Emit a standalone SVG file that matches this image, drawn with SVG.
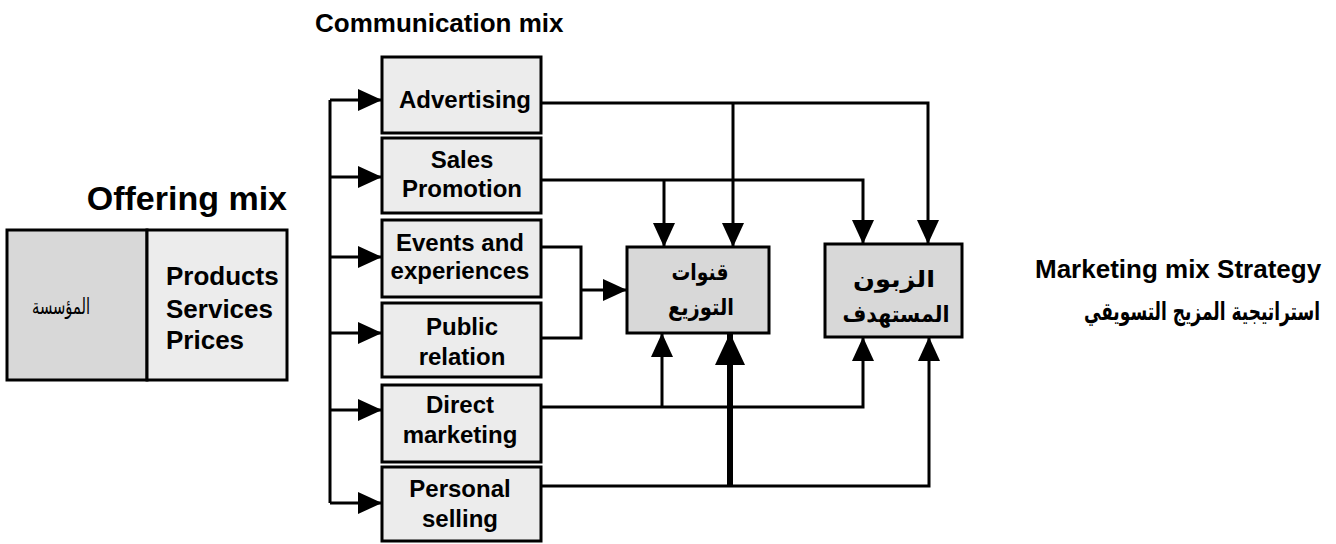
<svg xmlns="http://www.w3.org/2000/svg" width="1336" height="544" viewBox="0 0 1336 544">
  <style>
    .box { stroke: #000; stroke-width: 3; }
    .light { fill: #ececec; }
    .dense { fill: #d8d8d8; }
    .lbl { font-family: "Liberation Sans", Arial, sans-serif; font-weight: bold; fill: #000; }
    .ar { font-family: "DejaVu Sans", "Noto Sans", sans-serif; fill: #000; }
    .wire { fill: none; stroke: #000; stroke-width: 3; stroke-linejoin: miter; }
    .thick { fill: none; stroke: #000; stroke-width: 6; }
  </style>
  <defs>
    <marker id="arr" markerUnits="userSpaceOnUse" markerWidth="24" markerHeight="22" viewBox="0 0 24 22" refX="24" refY="11" orient="auto">
      <path d="M0,0 L24,11 L0,22 Z" fill="#000"/>
    </marker>
    <marker id="arrBig" markerUnits="userSpaceOnUse" markerWidth="32" markerHeight="30" viewBox="0 0 32 30" refX="32" refY="15" orient="auto">
      <path d="M0,0 L32,15 L0,30 Z" fill="#000"/>
    </marker>
  </defs>

  <rect width="1336" height="544" fill="#fff"/>

  <!-- headings -->
  <text class="lbl" x="315" y="32" font-size="26">Communication mix</text>
  <text class="lbl" x="287" y="210" font-size="34" text-anchor="end">Offering mix</text>
  <g id="strategy-title">
    <text class="lbl" x="1035" y="278" font-size="26">Marketing mix Strategy</text>
    <text class="ar" transform="translate(1202,320) scale(0.68,1)" x="0" y="0" font-size="25" font-weight="bold" direction="rtl" text-anchor="middle">استراتيجية المزيج التسويقي</text>
  </g>

  <!-- offering mix -->
  <g id="offering">
    <rect class="box dense" x="7" y="230" width="140" height="150"/>
    <rect class="box light" x="147" y="230" width="140" height="150"/>
    <text class="ar" x="61" y="314" font-size="22" textLength="58" lengthAdjust="spacingAndGlyphs" direction="rtl" text-anchor="middle">المؤسسة</text>
    <text class="lbl" x="166" y="285" font-size="26">Products</text>
    <text class="lbl" x="166" y="318" font-size="26">Services</text>
    <text class="lbl" x="166" y="349" font-size="26">Prices</text>
  </g>

  <!-- communication mix tools -->
  <g id="advertising">
    <rect class="box light" x="382" y="57" width="159" height="76"/>
    <text class="lbl" x="465" y="108" font-size="24" text-anchor="middle">Advertising</text>
  </g>
  <g id="sales-promotion">
    <rect class="box light" x="382" y="138" width="159" height="75"/>
    <text class="lbl" x="462" y="168" font-size="24" text-anchor="middle">Sales</text>
    <text class="lbl" x="462" y="197" font-size="24" text-anchor="middle">Promotion</text>
  </g>
  <g id="events">
    <rect class="box light" x="382" y="220" width="159" height="77"/>
    <text class="lbl" x="460" y="251" font-size="24" text-anchor="middle">Events and</text>
    <text class="lbl" x="460" y="279" font-size="24" text-anchor="middle">experiences</text>
  </g>
  <g id="public-relation">
    <rect class="box light" x="382" y="303" width="159" height="74"/>
    <text class="lbl" x="462" y="335" font-size="24" text-anchor="middle">Public</text>
    <text class="lbl" x="462" y="365" font-size="24" text-anchor="middle">relation</text>
  </g>
  <g id="direct-marketing">
    <rect class="box light" x="382" y="385" width="159" height="77"/>
    <text class="lbl" x="460" y="413" font-size="24" text-anchor="middle">Direct</text>
    <text class="lbl" x="460" y="443" font-size="24" text-anchor="middle">marketing</text>
  </g>
  <g id="personal-selling">
    <rect class="box light" x="382" y="467" width="159" height="74"/>
    <text class="lbl" x="460" y="497" font-size="24" text-anchor="middle">Personal</text>
    <text class="lbl" x="460" y="527" font-size="24" text-anchor="middle">selling</text>
  </g>

  <!-- distribution channels and target customer -->
  <g id="channels">
    <rect class="box dense" x="627" y="247" width="142" height="86"/>
    <text class="ar" x="700" y="280" font-size="23" font-weight="bold" textLength="57" lengthAdjust="spacingAndGlyphs" direction="rtl" text-anchor="middle">قنوات</text>
    <text class="ar" x="701" y="315" font-size="23" font-weight="bold" textLength="66" lengthAdjust="spacingAndGlyphs" direction="rtl" text-anchor="middle">التوزيع</text>
  </g>
  <g id="customer">
    <rect class="box dense" x="825" y="244" width="137" height="93"/>
    <text class="ar" x="894" y="287" font-size="23" font-weight="bold" textLength="82" lengthAdjust="spacingAndGlyphs" direction="rtl" text-anchor="middle">الزبون</text>
    <text class="ar" x="896" y="322" font-size="23" font-weight="bold" textLength="107" lengthAdjust="spacingAndGlyphs" direction="rtl" text-anchor="middle">المستهدف</text>
  </g>

  <g id="connectors">
    <!-- feed bus on the left -->
    <path class="wire" d="M330,100 V503"/>
    <path class="wire" marker-end="url(#arr)" d="M330,100 H382"/>
    <path class="wire" marker-end="url(#arr)" d="M330,177 H382"/>
    <path class="wire" marker-end="url(#arr)" d="M330,257 H382"/>
    <path class="wire" marker-end="url(#arr)" d="M330,333 H382"/>
    <path class="wire" marker-end="url(#arr)" d="M330,410 H382"/>
    <path class="wire" marker-end="url(#arr)" d="M330,503 H382"/>

    <!-- advertising -->
    <path class="wire" marker-end="url(#arr)" d="M541,103 H928 V244"/>
    <path class="wire" marker-end="url(#arr)" d="M733,103 V247"/>
    <!-- sales promotion -->
    <path class="wire" marker-end="url(#arr)" d="M541,180 H863 V244"/>
    <path class="wire" marker-end="url(#arr)" d="M664,180 V247"/>
    <!-- events and public relation -->
    <path class="wire" d="M541,247 H581 V338 H541"/>
    <path class="wire" marker-end="url(#arr)" d="M581,290 H627"/>
    <!-- direct marketing -->
    <path class="wire" marker-end="url(#arr)" d="M541,407 H863 V337"/>
    <path class="wire" marker-end="url(#arr)" d="M662,407 V333"/>
    <!-- personal selling -->
    <path class="wire" marker-end="url(#arr)" d="M541,486 H929 V337"/>
    <path class="thick" marker-end="url(#arrBig)" d="M730,486 V333"/>
  </g>
</svg>
